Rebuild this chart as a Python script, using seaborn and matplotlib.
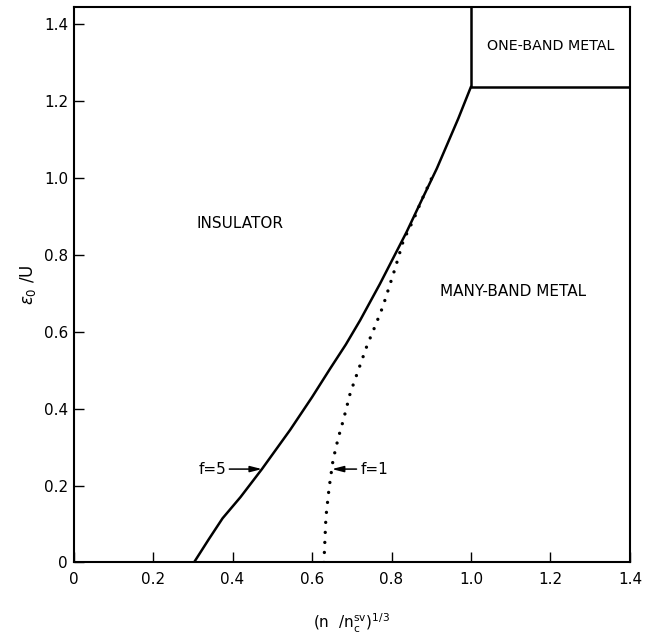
import matplotlib
matplotlib.use("Agg")
import matplotlib.pyplot as plt
import seaborn as sns
import pandas as pd

# ── Data ───────────────────────────────────────────────────────
# f = 5 boundary (solid)
f5_x = [0.303, 0.34, 0.375, 0.42, 0.474, 0.545, 0.60, 0.646, 0.685,
        0.721, 0.771, 0.838, 0.876, 0.914, 0.968, 1.0]
f5_y = [0.0, 0.06, 0.115, 0.17, 0.243, 0.345, 0.43, 0.505, 0.567,
        0.630, 0.725, 0.860, 0.943, 1.025, 1.155, 1.238]

# f = 1 boundary (dotted)
f1_x = [0.630, 0.635, 0.643, 0.653, 0.666, 0.679, 0.696, 0.715, 0.739,
        0.758, 0.778, 0.792, 0.809, 0.830, 0.855, 0.876, 0.901, 0.909]
f1_y = [0.0, 0.118, 0.194, 0.267, 0.324, 0.371, 0.440, 0.496, 0.566,
        0.613, 0.665, 0.710, 0.765, 0.838, 0.891, 0.943, 1.000, 1.021]

# one-band metal region corner
box_x = [1.0, 1.0, 1.4]
box_y = [1.446, 1.238, 1.238]

x_ticks = [0, 0.2, 0.4, 0.6, 0.8, 1.0, 1.2, 1.4]
x_labels = ['0', '0.2', '0.4', '0.6', '0.8', '1.0', '1.2', '1.4']
y_ticks = [0, 0.2, 0.4, 0.6, 0.8, 1.0, 1.2, 1.4]
y_labels = ['0', '0.2', '0.4', '0.6', '0.8', '1.0', '1.2', '1.4']

sns.set_style("ticks")
plt.rcParams['font.family'] = ['DejaVu Sans']
plt.rcParams['text.color'] = 'black'
plt.rcParams['axes.labelcolor'] = 'black'
plt.rcParams['xtick.color'] = 'black'
plt.rcParams['ytick.color'] = 'black'

fig = plt.figure(figsize=(6.49, 6.34), dpi=100)
ax = fig.add_axes([0.1133, 0.1128, 0.8574, 0.8766])

sns.lineplot(x=f5_x, y=f5_y, sort=False, estimator=None, color='black',
             lw=1.8, ax=ax)
sns.lineplot(x=f1_x, y=f1_y, sort=False, estimator=None, color='black',
             lw=2.4, linestyle=(0, (0.01, 3.0)), dash_capstyle='round', ax=ax)
sns.lineplot(x=box_x, y=box_y, sort=False, estimator=None, color='black',
             lw=1.8, ax=ax)

ax.set_xlim(0, 1.4)
ax.set_ylim(0, 1.446)
ax.set_xticks(x_ticks)
ax.set_xticklabels(x_labels)
ax.set_yticks(y_ticks)
ax.set_yticklabels(y_labels)
ax.tick_params(direction='in', length=7.5, width=1, labelsize=11)
ax.tick_params(axis='x', pad=7)
ax.tick_params(axis='y', pad=4)
for s in ax.spines.values():
    s.set_linewidth(1.5)
    s.set_color('black')

# region labels
ax.text(0.419, 0.882, 'INSULATOR', fontsize=11, ha='center', va='center')
ax.text(1.106, 0.705, 'MANY-BAND METAL', fontsize=11, ha='center', va='center')
ax.text(1.201, 1.344, 'ONE-BAND METAL', fontsize=10.3, ha='center', va='center')

# f labels with arrows
arrow = dict(arrowstyle='-|>,head_length=0.7,head_width=0.18', color='black',
             lw=1.1, shrinkA=0, shrinkB=0)
ax.annotate('', xy=(0.474, 0.243), xytext=(0.392, 0.243), arrowprops=arrow)
ax.text(0.384, 0.243, 'f=5', fontsize=11, ha='right', va='center')
ax.annotate('', xy=(0.650, 0.243), xytext=(0.712, 0.243), arrowprops=arrow)
ax.text(0.722, 0.243, 'f=1', fontsize=11, ha='left', va='center')

ax.set_xlabel(r'(n  /n$_{\rm c}^{\rm sv}$)$^{1/3}$', fontsize=11, labelpad=18)
ax.set_ylabel(r'$\epsilon_0$ /U', fontsize=12, labelpad=4)

plt.savefig('out.png', dpi=100)
plt.close()
